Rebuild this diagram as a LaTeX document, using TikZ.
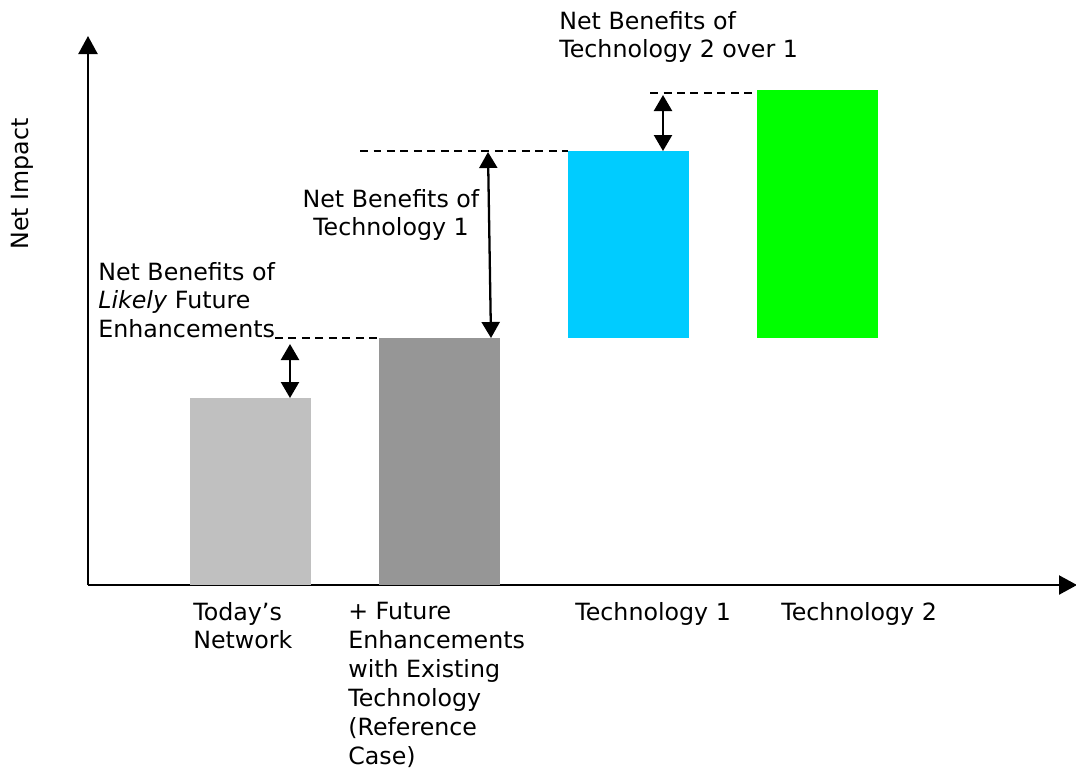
\documentclass[tikz,border=0pt]{standalone}
\usepackage{fontspec}
\setmainfont{DejaVu Sans}
\usetikzlibrary{arrows.meta}
\definecolor{todaygray}{HTML}{C0C0C0}
\definecolor{refgray}{HTML}{969696}
\definecolor{techone}{HTML}{00CCFF}
\definecolor{techtwo}{HTML}{00FF00}
\tikzset{
    axis/.style={line width=1.3pt,-{Triangle[length=0.36cm,width=0.38cm]}},
    gap/.style={line width=1.3pt,{Triangle[length=0.32cm,width=0.36cm]}-{Triangle[length=0.32cm,width=0.36cm]}},
    level/.style={dash pattern=on 0.16cm off 0.11cm,line width=0.8pt},
    lbl/.style={inner sep=0pt,font=\fontsize{13.5}{16.2}\selectfont,align=left}
}
\begin{document}
\begin{tikzpicture}[x=0.02cm,y=-0.02cm]
    \useasboundingbox (0,0) rectangle (1076,769);
    % axes
    \coordinate (origin) at (88,585);
    \coordinate (ytop) at (88,36);
    \coordinate (xend) at (1077,585);
    \draw [axis] (origin) -- (ytop);
    \draw [axis] (origin) -- (xend);
    \node[lbl,rotate=90] at (22,184) (impact){Net Impact};
    % bars
    \fill [todaygray] (190,585) rectangle (311,398);
    \fill [refgray] (379,585) rectangle (500,338);
    \fill [techone] (568,338) rectangle (689,151);
    \fill [techtwo] (757,338) rectangle (878,90);
    % levels
    \coordinate (l1a) at (275,338);
    \coordinate (l1b) at (379,338);
    \coordinate (l2a) at (360,151);
    \coordinate (l2b) at (568,151);
    \coordinate (l3a) at (650,93);
    \coordinate (l3b) at (757,93);
    \draw [level] (l1a) -- (l1b);
    \draw [level] (l2a) -- (l2b);
    \draw [level] (l3a) -- (l3b);
    % gaps
    \coordinate (todaytop) at (290,398);
    \coordinate (enhtop) at (290,344);
    \coordinate (reftop) at (491,338);
    \coordinate (onetop) at (488,152);
    \coordinate (onebar) at (663,151);
    \coordinate (twolevel) at (663,95);
    \draw [gap] (todaytop) -- (enhtop);
    \draw [gap] (reftop) -- (onetop);
    \draw [gap] (onebar) -- (twolevel);
    % gap labels
    \node[lbl,anchor=north west] at (98,262) (likely){Net Benefits of\\\textit{Likely} Future\\Enhancements};
    \node[lbl,anchor=north,align=center] at (391,189) (benone){Net Benefits of\\Technology 1};
    \node[lbl,anchor=north west] at (559,11) (bentwo){Net Benefits of\\Technology 2 over 1};
    % bar labels
    \node[lbl,anchor=north west] at (193,602) (today){Today’s\\Network};
    \node[lbl,anchor=north west,font=\fontsize{13.5}{16.5}\selectfont] at (348,602) (ref){+ Future\\Enhancements\\with Existing\\Technology\\(Reference\\Case)};
    \node[lbl,anchor=north west] at (575,602) (tone){Technology 1};
    \node[lbl,anchor=north west] at (781,602) (ttwo){Technology 2};
\end{tikzpicture}
\end{document}
